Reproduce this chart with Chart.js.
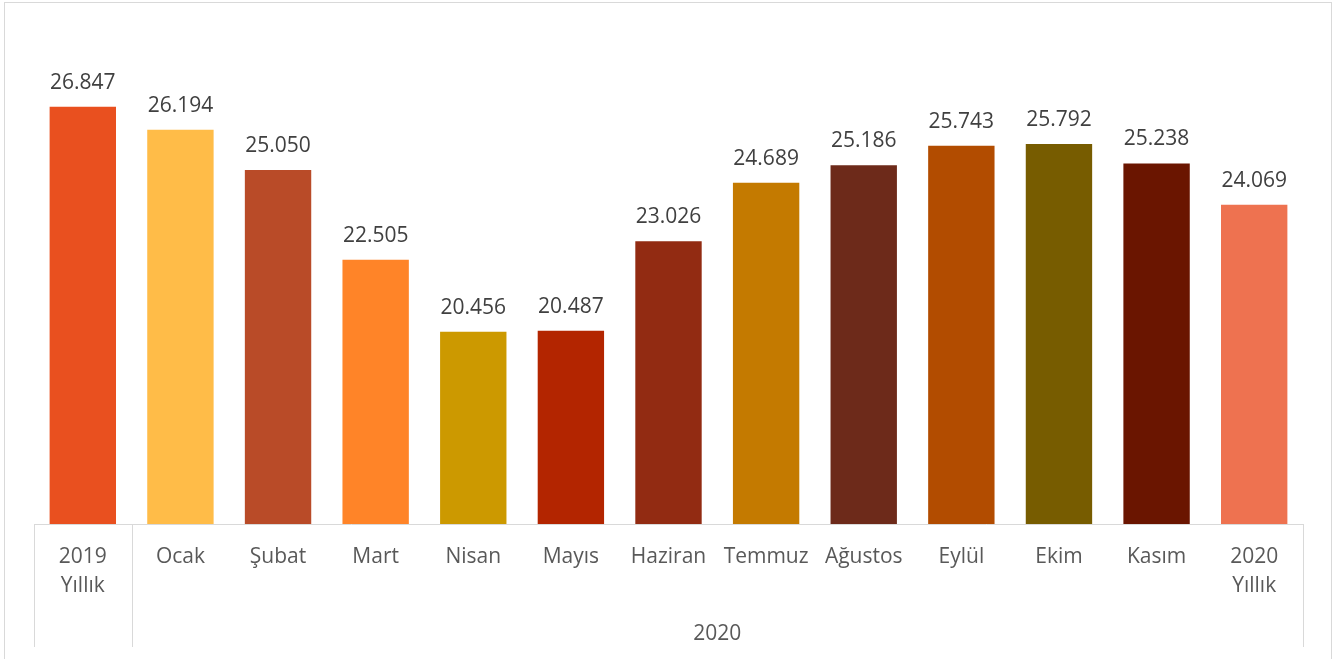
<!DOCTYPE html>
<html>
<head>
<meta charset="utf-8">
<style>
  html, body { margin: 0; padding: 0; background: #fff; }
  #wrap { width: 1339px; height: 659px; position: relative; }
</style>
<script src="https://cdn.jsdelivr.net/npm/chart.js@4.4.0/dist/chart.umd.min.js"></script>
</head>
<body>
<div id="wrap"><canvas id="chart"></canvas></div>
<script>
const categories = [['2019', 'Yıllık'], 'Ocak', 'Şubat', 'Mart', 'Nisan', 'Mayıs', 'Haziran',
    'Temmuz', 'Ağustos', 'Eylül', 'Ekim', 'Kasım', ['2020', 'Yıllık']];
const groupLabel = '2020';
const values = [26847, 26194, 25050, 22505, 20456, 20487, 23026, 24689, 25186, 25743, 25792, 25238, 24069];
const barColors = ['#E9501F', '#FFBC48', '#B94B28', '#FF8428', '#CC9900', '#B32500', '#922B12',
    '#C47A00', '#6D2A1A', '#B24C00', '#775C00', '#6A1500', '#EE7250'];

function formatTr(v) {
    return String(v).replace(/\B(?=(\d{3})+(?!\d))/g, '.');
}

const lineColor = '#d9d9d9';

const decorPlugin = {
    id: 'decor',
    beforeDraw(chart) {
        const c = chart.ctx;
        c.save();
        c.strokeStyle = lineColor;
        c.lineWidth = 1;
        c.strokeRect(4.5, 2.5, 1327, 660);
        c.restore();
    },
    afterDraw(chart) {
        const c = chart.ctx;
        const area = chart.chartArea;
        const x = chart.scales.x;
        const step = x.getPixelForValue(1) - x.getPixelForValue(0);
        const sep = x.getPixelForValue(0) + step / 2;
        c.save();
        c.strokeStyle = lineColor;
        c.lineWidth = 1;
        [area.left, sep, area.right].forEach(px => {
            const p = Math.round(px) + 0.5;
            c.beginPath();
            c.moveTo(p, area.bottom);
            c.lineTo(p, 647);
            c.stroke();
        });
        c.fillStyle = '#595959';
        c.font = '21px "Open Sans"';
        c.textAlign = 'center';
        c.textBaseline = 'alphabetic';
        c.fillText(groupLabel, (sep + area.right) / 2, 640);

        // data labels
        c.fillStyle = '#404040';
        const meta = chart.getDatasetMeta(0);
        meta.data.forEach((bar, i) => {
            c.fillText(formatTr(values[i]), bar.x, bar.y - 18);
        });
        c.restore();
    }
};

new Chart(document.getElementById('chart'), {
    type: 'bar',
    data: {
        labels: categories,
        datasets: [{
            data: values,
            backgroundColor: barColors,
            categoryPercentage: 1,
            barPercentage: 0.68
        }]
    },
    options: {
        responsive: true,
        maintainAspectRatio: false,
        animation: false,
        layout: {
            padding: { left: 34, right: 36, top: 31, bottom: 0 }
        },
        plugins: {
            legend: { display: false },
            tooltip: { enabled: false }
        },
        scales: {
            y: {
                display: false,
                min: 15000,
                max: 29000
            },
            x: {
                grid: { display: false },
                border: { display: true, color: lineColor, width: 1 },
                ticks: {
                    color: '#595959',
                    font: { family: 'Open Sans', size: 21, lineHeight: 1.38 },
                    padding: 11,
                    maxRotation: 0,
                    autoSkip: false
                },
                afterFit(scale) {
                    scale.height = 135;
                }
            }
        }
    },
    plugins: [decorPlugin]
});
</script>
</body>
</html>
